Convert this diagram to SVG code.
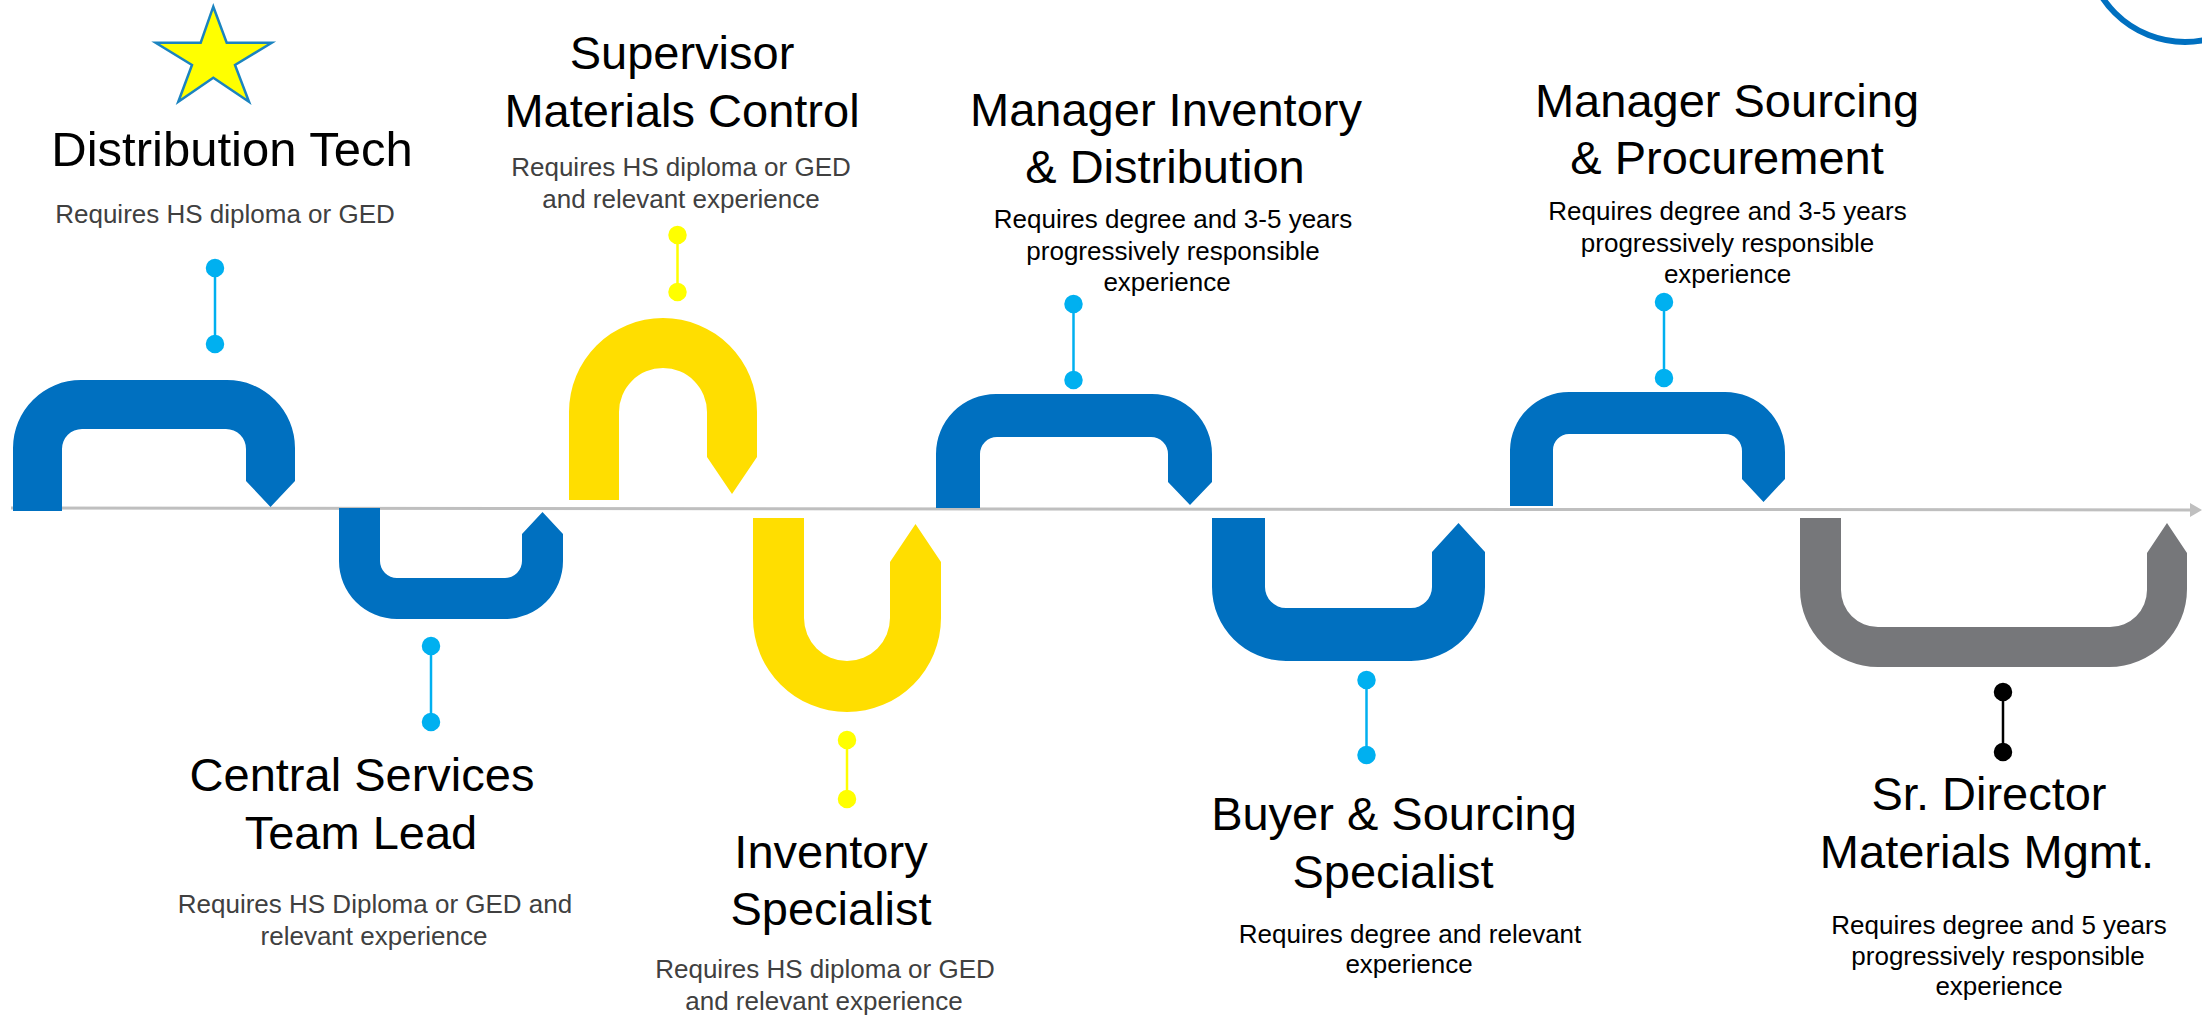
<svg xmlns="http://www.w3.org/2000/svg" width="2202" height="1015" viewBox="0 0 2202 1015">
<style>
.title{font-family:"Liberation Sans",Arial,sans-serif;font-size:47px;fill:#000;text-anchor:middle}
.sub{font-family:"Liberation Sans",Arial,sans-serif;font-size:26px;fill:#404040;text-anchor:middle}
.subk{font-family:"Liberation Sans",Arial,sans-serif;font-size:26px;fill:#000;text-anchor:middle}
.blue{fill:#0070C0}
.yel{fill:#FFDE00}
.gry{fill:#76777A}
.pinb{stroke:#00B0F0;fill:#00B0F0;stroke-width:2.5}
.piny{stroke:#FFFF00;fill:#FFFF00;stroke-width:2.5}
.pink{stroke:#000;fill:#000;stroke-width:2.5}
</style>
<rect x="0" y="0" width="2202" height="1015" fill="#fff"/>
<circle cx="2185" cy="-57" r="99" fill="none" stroke="#0070C0" stroke-width="6"/>
<polygon points="213.3,6.7 226.7,42.7 271.7,42.7 235,65 249,101.7 213.3,77.7 178.3,101.7 192,65 155.7,42.7 200.7,42.7" fill="#FFFF00" stroke="#1B84C0" stroke-width="2.5"/>

<g id="connectors">
  <line x1="11" y1="508" x2="2192" y2="510" stroke="#BFBFBF" stroke-width="3"/>
  <polygon points="2190,503 2202,510 2190,517" fill="#BFBFBF"/>
  <g class="pinb"><line x1="215" y1="268" x2="215" y2="344"/><circle cx="215" cy="268" r="8"/><circle cx="215" cy="344" r="8"/></g>
  <g class="pinb"><line x1="431" y1="646" x2="431" y2="722"/><circle cx="431" cy="646" r="8"/><circle cx="431" cy="722" r="8"/></g>
  <g class="piny"><line x1="677.5" y1="235" x2="677.5" y2="292"/><circle cx="677.5" cy="235" r="8"/><circle cx="677.5" cy="292" r="8"/></g>
  <g class="piny"><line x1="847" y1="740" x2="847" y2="799"/><circle cx="847" cy="740" r="8"/><circle cx="847" cy="799" r="8"/></g>
  <g class="pinb"><line x1="1073.5" y1="304" x2="1073.5" y2="380"/><circle cx="1073.5" cy="304" r="8"/><circle cx="1073.5" cy="380" r="8"/></g>
  <g class="pinb"><line x1="1366.5" y1="680" x2="1366.5" y2="755"/><circle cx="1366.5" cy="680" r="8"/><circle cx="1366.5" cy="755" r="8"/></g>
  <g class="pinb"><line x1="1664" y1="302" x2="1664" y2="378"/><circle cx="1664" cy="302" r="8"/><circle cx="1664" cy="378" r="8"/></g>
  <g class="pink"><line x1="2003" y1="692" x2="2003" y2="752"/><circle cx="2003" cy="692" r="8"/><circle cx="2003" cy="752" r="8"/></g>
</g>

<g id="distribution-tech">
  <path class="blue" d="M13,511 L13,448 A68,68 0 0 1 81,380 L227,380 A68,68 0 0 1 295,448 L295,481 L270.5,507 L246,481 L246,449 A20,20 0 0 0 226,429 L82,429 A20,20 0 0 0 62,449 L62,511 Z"/>
  <text class="title" x="232" y="166" style="font-size:49px">Distribution Tech</text>
  <text class="sub" x="225" y="223">Requires HS diploma or GED</text>
</g>

<g id="central-services-team-lead">
  <path class="blue" d="M339,508 L380,508 L380,561 A17,17 0 0 0 397,578 L505,578 A17,17 0 0 0 522,561 L522,534 L542.5,512 L563,534 L563,561 A58,58 0 0 1 505,619 L397,619 A58,58 0 0 1 339,561 Z"/>
  <text class="title" x="362" y="791">Central Services</text>
  <text class="title" x="361" y="849">Team Lead</text>
  <text class="sub" x="375" y="913">Requires HS Diploma or GED and</text>
  <text class="sub" x="374" y="945">relevant experience</text>
</g>

<g id="supervisor-materials-control">
  <path class="yel" d="M569,500 L569,412 A94,94 0 0 1 757,412 L757,457 L732,494 L707,457 L707,412 A44,44 0 0 0 619,412 L619,500 Z"/>
  <text class="title" x="682" y="69">Supervisor</text>
  <text class="title" x="682" y="127">Materials Control</text>
  <text class="sub" x="681" y="176">Requires HS diploma or GED</text>
  <text class="sub" x="681" y="207.5">and relevant experience</text>
</g>

<g id="inventory-specialist">
  <path class="yel" d="M753,518 L804,518 L804,618 A43,43 0 0 0 890,618 L890,562 L915.5,524 L941,562 L941,618 A94,94 0 0 1 753,618 Z"/>
  <text class="title" x="831" y="868">Inventory</text>
  <text class="title" x="831" y="925">Specialist</text>
  <text class="sub" x="825" y="978">Requires HS diploma or GED</text>
  <text class="sub" x="824" y="1010">and relevant experience</text>
</g>

<g id="manager-inventory-distribution">
  <path class="blue" d="M936,508 L936,454 A60,60 0 0 1 996,394 L1152,394 A60,60 0 0 1 1212,454 L1212,482 L1190,505 L1168,482 L1168,454 A17,17 0 0 0 1151,437 L997,437 A17,17 0 0 0 980,454 L980,508 Z"/>
  <text class="title" x="1166" y="126">Manager Inventory</text>
  <text class="title" x="1165" y="183">&amp; Distribution</text>
  <text class="subk" x="1173" y="228">Requires degree and 3-5 years</text>
  <text class="subk" x="1173" y="260">progressively responsible</text>
  <text class="subk" x="1167" y="291">experience</text>
</g>

<g id="buyer-sourcing-specialist">
  <path class="blue" d="M1212,518 L1265,518 L1265,587 A21,21 0 0 0 1286,608 L1411,608 A21,21 0 0 0 1432,587 L1432,552 L1458.5,523 L1485,552 L1485,587 A74,74 0 0 1 1411,661 L1286,661 A74,74 0 0 1 1212,587 Z"/>
  <text class="title" x="1394" y="830">Buyer &amp; Sourcing</text>
  <text class="title" x="1393" y="888">Specialist</text>
  <text class="subk" x="1410" y="942.5">Requires degree and relevant</text>
  <text class="subk" x="1409" y="973">experience</text>
</g>

<g id="manager-sourcing-procurement">
  <path class="blue" d="M1510,506 L1510,450 A59,59 0 0 1 1569,392 L1725,392 A60,60 0 0 1 1785,452 L1785,479 L1763.5,502 L1742,479 L1742,451 A17,17 0 0 0 1725,434 L1569,434 A16,16 0 0 0 1553,450 L1553,506 Z"/>
  <text class="title" x="1727" y="117">Manager Sourcing</text>
  <text class="title" x="1727" y="174">&amp; Procurement</text>
  <text class="subk" x="1727.5" y="220">Requires degree and 3-5 years</text>
  <text class="subk" x="1727.5" y="251.5">progressively responsible</text>
  <text class="subk" x="1727.5" y="283">experience</text>
</g>

<g id="sr-director-materials-mgmt">
  <path class="gry" d="M1800,518 L1841,518 L1841,590 A37,37 0 0 0 1878,627 L2110,627 A37,37 0 0 0 2147,590 L2147,553 L2167,523 L2187,553 L2187,589 A78,78 0 0 1 2109,667 L1878,667 A78,78 0 0 1 1800,589 Z"/>
  <text class="title" x="1989" y="810">Sr. Director</text>
  <text class="title" x="1987" y="868">Materials Mgmt.</text>
  <text class="subk" x="1999" y="934">Requires degree and 5 years</text>
  <text class="subk" x="1998" y="964.5">progressively responsible</text>
  <text class="subk" x="1999" y="995">experience</text>
</g>
</svg>
